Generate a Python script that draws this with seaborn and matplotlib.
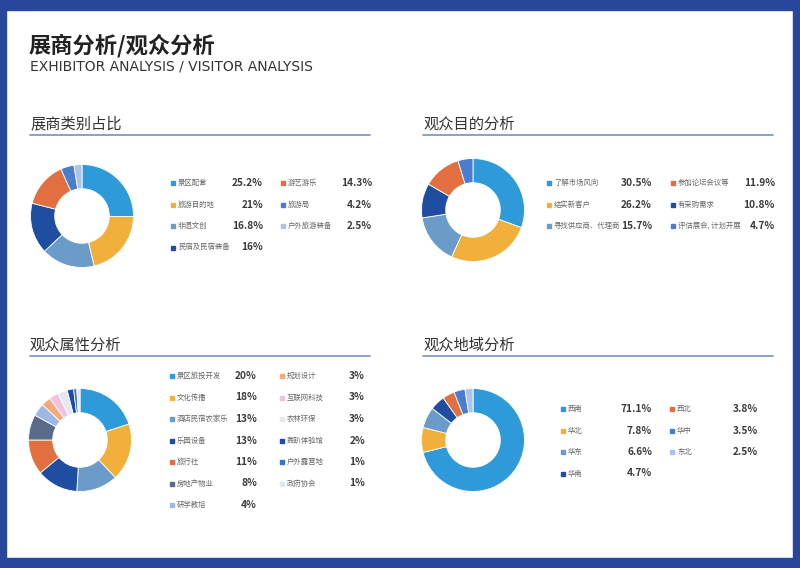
import seaborn as sns
import matplotlib.pyplot as plt
from matplotlib.patches import Rectangle

sns.set_theme(style="white")
plt.rcParams['font.family'] = ['Noto Sans CJK SC', 'DejaVu Sans']

# colours used across the four donuts
BLUE = "#2f9ad9"
YELLOW = "#f1b03b"
STEEL = "#6b9cc9"
DARK = "#1f4d9f"
ORANGE = "#e16f40"
MID = "#4a7dcb"
LAV = "#a9c3ea"

# 展商类别占比
exh_labels = ["景区配套", "旅游目的地", "非遗文创", "民宿及民宿装备", "游艺游乐", "旅游局", "户外旅游装备"]
exh_values = [25.2, 21, 16.8, 16, 14.3, 4.2, 2.5]
exh_text = ["25.2%", "21%", "16.8%", "16%", "14.3%", "4.2%", "2.5%"]
exh_colors = [BLUE, YELLOW, STEEL, DARK, ORANGE, MID, LAV]

# 观众目的分析
aim_labels = ["了解市场风向", "结实新客户", "寻找供应商、代理商", "有采购需求", "参加论坛会议等", "评估展会, 计划开展"]
aim_values = [30.5, 26.2, 15.7, 10.8, 11.9, 4.7]
aim_text = ["30.5%", "26.2%", "15.7%", "10.8%", "11.9%", "4.7%"]
aim_colors = [BLUE, YELLOW, STEEL, DARK, ORANGE, MID]
# legend order (left column then right column)
aim_order = [0, 1, 2, 4, 3, 5]

# 观众属性分析
attr_labels = ["景区旅投开发", "文化传播", "酒店民宿农家乐", "乐园设备", "旅行社", "房地产物业", "研学教培",
               "规划设计", "互联网科技", "农林环保", "轰趴体验馆", "户外露营地", "政府协会"]
attr_values = [20, 18, 13, 13, 11, 8, 4, 3, 3, 3, 2, 1, 1]
attr_text = ["20%", "18%", "13%", "13%", "11%", "8%", "4%", "3%", "3%", "3%", "2%", "1%", "1%"]
attr_colors = [BLUE, YELLOW, STEEL, DARK, ORANGE, "#5a6b89", "#9bb9e2",
               "#f4a97a", "#efc3df", "#e5e9ef", "#1f49a6", "#3b71c8", "#dfe7f1"]

# 观众地域分析
reg_labels = ["西南", "华北", "华东", "华南", "西北", "华中", "东北"]
reg_values = [71.1, 7.8, 6.6, 4.7, 3.8, 3.5, 2.5]
reg_text = ["71.1%", "7.8%", "6.6%", "4.7%", "3.8%", "3.5%", "2.5%"]
reg_colors = [BLUE, YELLOW, STEEL, DARK, ORANGE, MID, LAV]

W, H = 800, 568
fig = plt.figure(figsize=(8, 5.68), dpi=100)
fig.patch.set_facecolor("white")
bg = fig.add_axes([0, 0, 1, 1])
bg.set_xlim(0, W)
bg.set_ylim(H, 0)
bg.axis("off")

# frame
frame = "#27469c"
bg.add_patch(Rectangle((0, 0), W, 10, color=frame))
bg.add_patch(Rectangle((0, 0), 6, H, color=frame))
bg.add_patch(Rectangle((793, 0), 7, H, color=frame))
bg.add_patch(Rectangle((0, 558), W, 10, color=frame))

bg.text(29, 46, "展商分析/观众分析", fontsize=16, fontweight="bold", color="#222222", va="center")
bg.text(30, 67, "EXHIBITOR ANALYSIS / VISITOR ANALYSIS", fontsize=10, color="#333333", va="center",
        family=["DejaVu Sans"])


def section(x, y, title, x2):
    bg.text(x, y, title, fontsize=11, color="#333333", va="center")
    bg.plot([x, x2], [y + 11, y + 11], color="#7d8fb0", lw=1.2)


section(30, 124, "展商类别占比", 370)
section(423, 124, "观众目的分析", 773)
section(30, 345, "观众属性分析", 370)
section(423, 345, "观众地域分析", 773)


def donut(cx, cy, r, values, colors):
    ax = fig.add_axes([(cx - r) / W, 1 - (cy + r) / H, 2 * r / W, 2 * r / H])
    ax.pie(values, colors=colors, startangle=90, counterclock=False,
           wedgeprops=dict(width=0.47, edgecolor="white", linewidth=0.6))
    ax.set_xlim(-1.01, 1.01)
    ax.set_ylim(-1.01, 1.01)
    ax.set_aspect("equal")
    ax.axis("off")


donut(82, 216, 52, exh_values, exh_colors)
donut(473, 210, 52, aim_values, aim_colors)
donut(80, 440, 52, attr_values, attr_colors)
donut(473, 440, 52, reg_values, reg_colors)


def legend(items, cols, rows_y):
    # items: list of (label, text, colour); cols: [(marker_x, pct_right_x), ...]
    n_rows = len(rows_y)
    for i, (lab, txt, col) in enumerate(items):
        c = i // n_rows
        r = i % n_rows
        mx, px = cols[c]
        y = rows_y[r]
        bg.add_patch(Rectangle((mx - 2, y - 2), 4, 4, color=col))
        bg.text(mx + 5, y, lab, fontsize=5.3, color="#666666", va="center")
        bg.text(px, y, txt, fontsize=7.3, fontweight="bold", color="#3a3a3a", va="center", ha="right")


legend(list(zip(exh_labels, exh_text, exh_colors)), [(173, 263), (283, 372)], [183, 204.5, 226, 247.5])
legend([(aim_labels[i], aim_text[i], aim_colors[i]) for i in aim_order],
       [(549, 652), (673, 775)], [183, 204.5, 226])
legend(list(zip(attr_labels, attr_text, attr_colors)), [(172, 257), (282, 365)],
       [376, 397.5, 419, 440.5, 462, 483.5, 505])
legend(list(zip(reg_labels, reg_text, reg_colors)), [(563, 652), (672, 758)], [409, 430.5, 452, 473.5])

plt.savefig("out.png", dpi=100)
